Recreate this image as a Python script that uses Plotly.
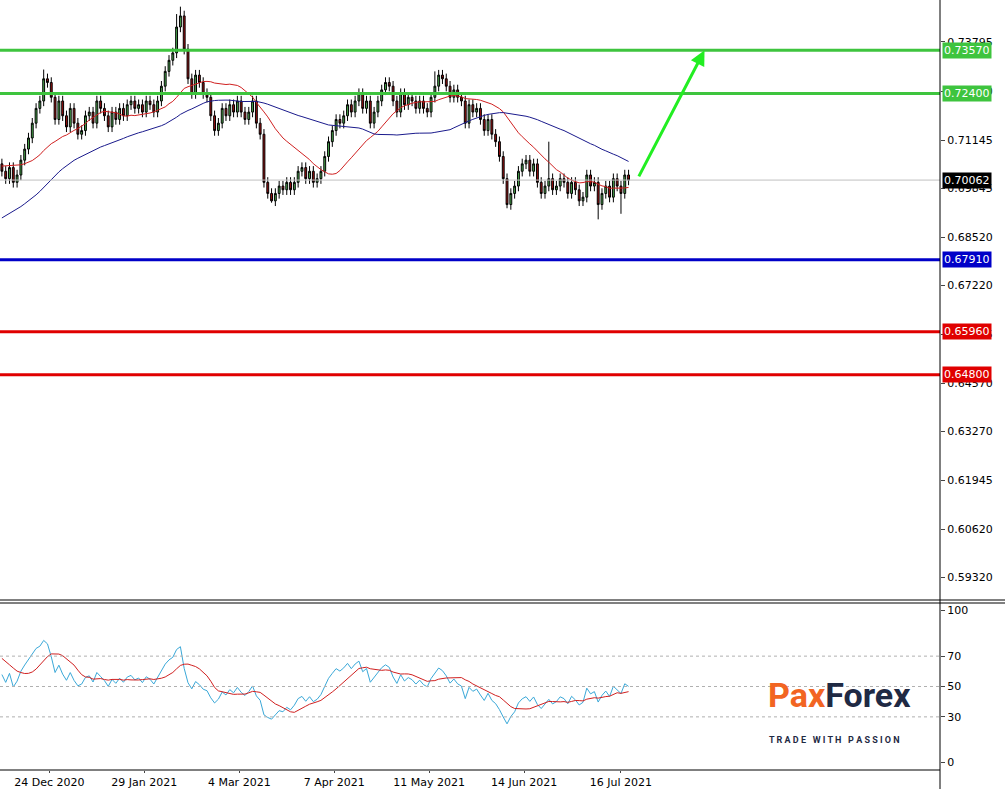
import numpy as np
import pandas as pd
import plotly.graph_objects as go

# ---- data ----
# closes before the visible window (seed for the moving averages / RSI)
pre_closes = [
    0.669, 0.671, 0.668, 0.672, 0.675, 0.673, 0.671, 0.674, 0.676, 0.678,
    0.675, 0.673, 0.672, 0.670, 0.668, 0.671, 0.674, 0.677, 0.679, 0.682,
    0.685, 0.688, 0.691, 0.693, 0.695, 0.694, 0.696, 0.699, 0.697, 0.696,
    0.698, 0.700, 0.701, 0.699, 0.702, 0.704, 0.703, 0.705, 0.706, 0.705,
    0.706, 0.705, 0.706, 0.707, 0.705, 0.707, 0.706, 0.707, 0.706, 0.705,
]
closes = [
    0.703, 0.701, 0.704, 0.700, 0.702, 0.706, 0.709, 0.712, 0.716, 0.720,
    0.722, 0.728, 0.727, 0.723, 0.717, 0.722, 0.718, 0.715, 0.720, 0.716,
    0.713, 0.714, 0.718, 0.719, 0.716, 0.722, 0.720, 0.718, 0.715, 0.719,
    0.717, 0.720, 0.718, 0.721, 0.722, 0.720, 0.721, 0.719, 0.722, 0.721,
    0.719, 0.722, 0.726, 0.730, 0.733, 0.735, 0.742, 0.745, 0.736, 0.728,
    0.724, 0.729, 0.727, 0.724, 0.723, 0.718, 0.714, 0.716, 0.720, 0.718,
    0.721, 0.719, 0.722, 0.719, 0.717, 0.719, 0.722, 0.716, 0.713, 0.700,
    0.697, 0.695, 0.697, 0.699, 0.698, 0.700, 0.698, 0.700, 0.703, 0.704,
    0.701, 0.703, 0.700, 0.701, 0.703, 0.707, 0.711, 0.714, 0.717, 0.716,
    0.718, 0.721, 0.719, 0.722, 0.724, 0.720, 0.722, 0.716, 0.719, 0.722,
    0.725, 0.727, 0.726, 0.722, 0.719, 0.724, 0.721, 0.723, 0.722, 0.720,
    0.722, 0.720, 0.719, 0.723, 0.726, 0.729, 0.728, 0.726, 0.723, 0.725,
    0.723, 0.722, 0.716, 0.721, 0.719, 0.720, 0.717, 0.714, 0.717, 0.713,
    0.711, 0.707, 0.701, 0.694, 0.697, 0.699, 0.703, 0.705, 0.706, 0.703,
    0.705, 0.700, 0.697, 0.699, 0.701, 0.698, 0.699, 0.701, 0.700, 0.697,
    0.700, 0.698, 0.695, 0.696, 0.702, 0.699, 0.700, 0.694, 0.697, 0.699,
    0.696, 0.701, 0.699, 0.697, 0.702, 0.70062,
]
# notable wick extremes (bar index -> price)
spike_highs = {47: 0.7475, 46: 0.7455, 11: 0.7305, 114: 0.7300, 144: 0.7110}
spike_lows = {71: 0.6945, 133: 0.6930, 157: 0.6900, 163: 0.6915}

level_lines = [0.7357, 0.7240, 0.6791, 0.6596, 0.6480]
level_colors = ["#3ec43e", "#3ec43e", "#0000c8", "#e00000", "#e00000"]
level_labels = ["0.73570", "0.72400", "0.67910", "0.65960", "0.64800"]
last_price = 0.70062

price_ticks = [0.73795, 0.72470, 0.71145, 0.69845, 0.68520, 0.67220, 0.65895,
               0.64570, 0.63270, 0.61945, 0.60620, 0.59320]
date_ticks = ["24 Dec 2020", "29 Jan 2021", "4 Mar 2021", "7 Apr 2021",
              "11 May 2021", "14 Jun 2021", "16 Jul 2021"]
tick_bars = [12.5, 37.5, 62.5, 87.5, 112.5, 137.5, 163]
rsi_ticks = [0, 30, 50, 70, 100]

# ---- derived series ----
all_c = np.array(pre_closes + closes)
all_o = np.concatenate([[all_c[0]], all_c[:-1]])
n_pre = len(pre_closes)
idx = np.arange(len(all_c)) - n_pre
hi = np.maximum(all_o, all_c) + 0.0014
lo = np.minimum(all_o, all_c) - 0.0014
for k, v in spike_highs.items():
    hi[k + n_pre] = v
for k, v in spike_lows.items():
    lo[k + n_pre] = v

s = pd.Series(all_c)
ma20 = s.rolling(20).mean()
ma50 = s.rolling(50).mean()
d = s.diff()
up = d.clip(lower=0).ewm(alpha=1 / 14, adjust=False).mean()
dn = (-d.clip(upper=0)).ewm(alpha=1 / 14, adjust=False).mean()
rsi = 100 - 100 / (1 + up / dn)
rsi_ma = rsi.rolling(9).mean()

vis = idx >= 0
X = idx[vis]

fig = go.Figure()
fig.add_trace(go.Candlestick(
    x=X, open=all_o[vis], high=hi[vis], low=lo[vis], close=all_c[vis],
    increasing=dict(line=dict(color="black", width=1), fillcolor="#4caf50"),
    decreasing=dict(line=dict(color="black", width=1), fillcolor="#a01010"),
    whiskerwidth=0, showlegend=False, xaxis="x", yaxis="y"))
fig.add_trace(go.Scatter(x=X, y=ma20[vis], mode="lines",
                         line=dict(color="#d02020", width=1), showlegend=False))
fig.add_trace(go.Scatter(x=X, y=ma50[vis], mode="lines",
                         line=dict(color="#1a1a8c", width=1), showlegend=False))
fig.add_trace(go.Scatter(x=X, y=rsi[vis], mode="lines", xaxis="x2", yaxis="y2",
                         line=dict(color="#3aa8d8", width=1), showlegend=False))
fig.add_trace(go.Scatter(x=X, y=rsi_ma[vis], mode="lines", xaxis="x2", yaxis="y2",
                         line=dict(color="#d02020", width=1), showlegend=False))

shapes = []
annotations = []
shapes.append(dict(type="line", xref="paper", yref="y", x0=0, x1=1,
                   y0=last_price, y1=last_price, line=dict(color="#c0c0c0", width=1)))
for v, c, t in zip(level_lines, level_colors, level_labels):
    shapes.append(dict(type="line", xref="paper", yref="y", x0=0, x1=1, y0=v, y1=v,
                       line=dict(color=c, width=3)))
    annotations.append(dict(xref="paper", yref="y", x=1.002, y=v, text=t, showarrow=False,
                            xanchor="left", font=dict(color="white", size=11, family="DejaVu Sans"),
                            bgcolor=c, borderpad=1))
annotations.append(dict(xref="paper", yref="y", x=1.002, y=last_price, text="0.70062",
                        showarrow=False, xanchor="left",
                        font=dict(color="white", size=11, family="DejaVu Sans"),
                        bgcolor="black", borderpad=1))
for v in [30, 50, 70]:
    shapes.append(dict(type="line", xref="paper", yref="y2", x0=0, x1=1, y0=v, y1=v,
                       line=dict(color="#b0b0b0", width=1, dash="dot")))
# panel frames
for yy in [600, 603]:
    shapes.append(dict(type="line", xref="paper", yref="paper", x0=0, x1=1.07,
                       y0=1 - yy / 789, y1=1 - yy / 789, line=dict(color="black", width=1)))
shapes.append(dict(type="line", xref="paper", yref="paper", x0=1, x1=1,
                   y0=0, y1=1, line=dict(color="black", width=1)))
shapes.append(dict(type="line", xref="paper", yref="paper", x0=0, x1=1,
                   y0=1 - 770 / 789, y1=1 - 770 / 789, line=dict(color="black", width=1)))

# forecast arrow
annotations.append(dict(x=185, y=0.7357, ax=167.5, ay=0.7012, xref="x", yref="y",
                        axref="x", ayref="y", showarrow=True, arrowhead=2, arrowsize=1,
                        arrowwidth=3, arrowcolor="#22ee22", text=""))
# logo
annotations.append(dict(xref="paper", yref="paper", x=766 / 940, y=1 - 717 / 789,
                        xanchor="left",
                        text="<b><span style='color:#f26522'>Pax</span>"
                             "<span style='color:#1f2a44'>Forex</span></b>",
                        showarrow=False, font=dict(size=34, family="Roboto")))
annotations.append(dict(xref="paper", yref="paper", x=767 / 940, y=1 - 747 / 789,
                        xanchor="left",
                        text="<b>T R A D E   W I T H   P A S S I O N</b>", showarrow=False,
                        font=dict(size=9, color="#1f2a44", family="Roboto")))

axis_font = dict(family="DejaVu Sans", size=11, color="black")
fig.update_layout(
    width=1005, height=789, margin=dict(l=0, r=65, t=0, b=0),
    plot_bgcolor="white", paper_bgcolor="white",
    shapes=shapes, annotations=annotations,
    xaxis=dict(domain=[0, 1], range=[-0.5, 247], showticklabels=False, showgrid=False,
               zeroline=False, rangeslider=dict(visible=False), anchor="y",
               automargin=False),
    yaxis=dict(domain=[1 - 600 / 789, 1], range=[0.5871, 0.7493], side="right",
               tickvals=price_ticks, ticktext=[f"{v:.5f}" for v in price_ticks],
               ticks="outside", ticklen=4, showgrid=False, zeroline=False,
               tickfont=axis_font, anchor="x", automargin=False),
    xaxis2=dict(domain=[0, 1], range=[-0.5, 247], tickvals=tick_bars, ticktext=date_ticks,
                ticks="outside", ticklen=2, showgrid=False, zeroline=False,
                tickfont=axis_font, anchor="y2", automargin=False),
    yaxis2=dict(domain=[1 - 770 / 789, 1 - 603 / 789], range=[-5, 105], side="right",
                tickvals=rsi_ticks, ticks="outside", ticklen=4, showgrid=False,
                zeroline=False, tickfont=axis_font, anchor="x2", automargin=False),
)

# page body margin off so the figure sits at the window's top-left corner
fig.write_html("out.html", config={"displayModeBar": False},
               post_script="document.body.style.margin='0';")
